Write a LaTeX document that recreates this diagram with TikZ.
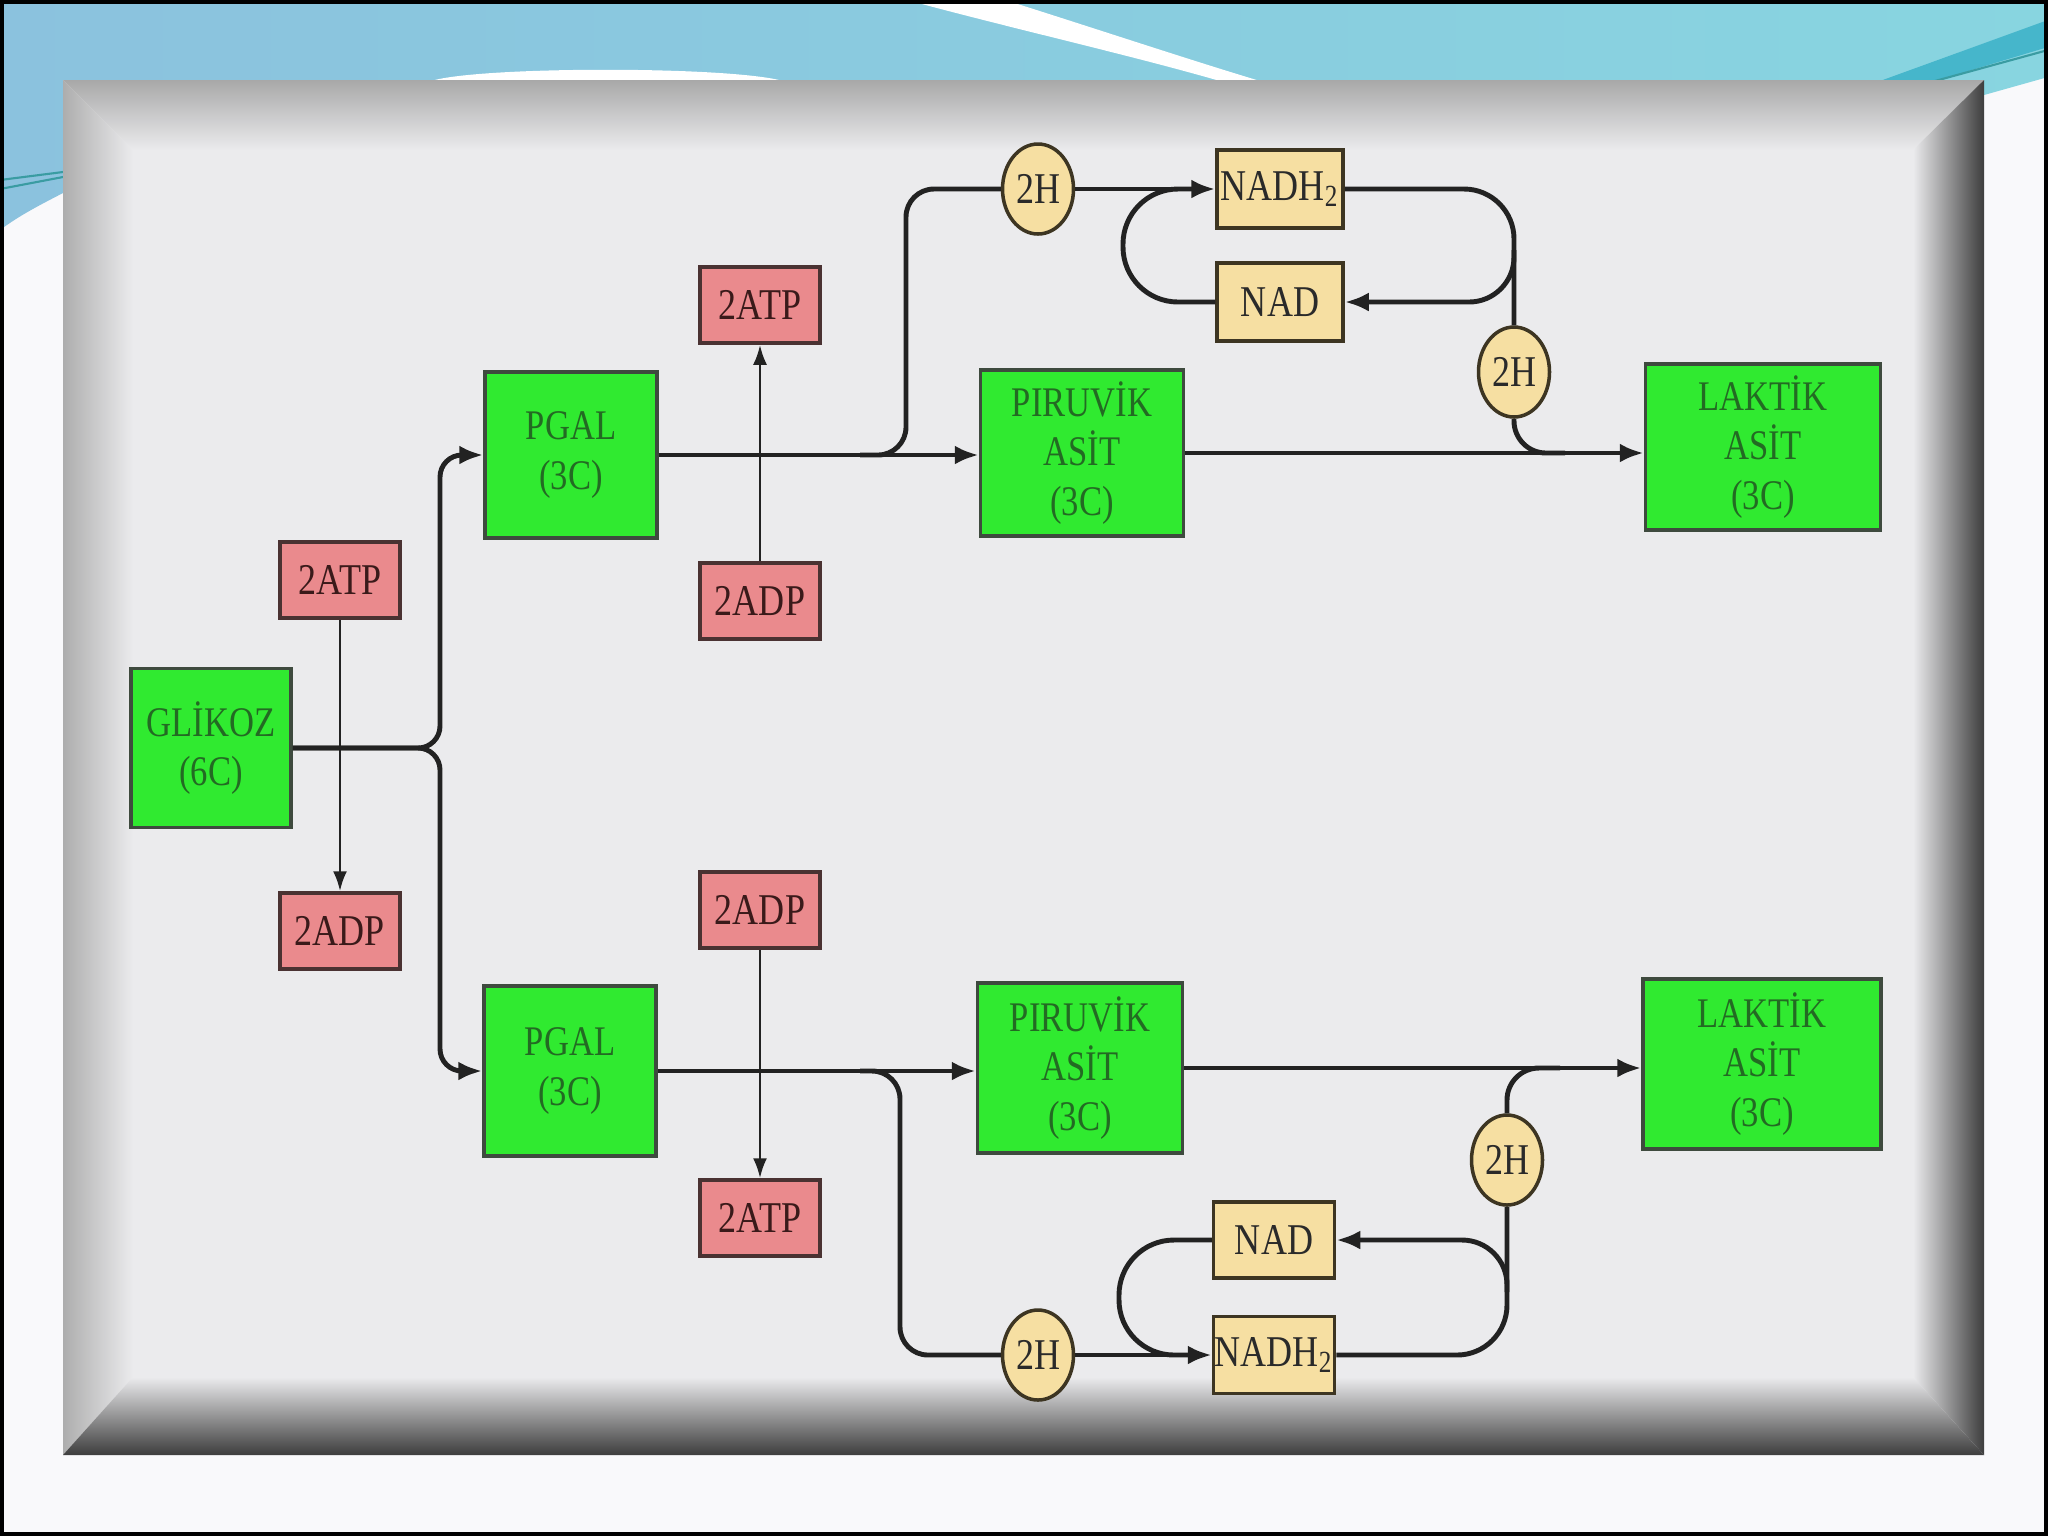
\documentclass[tikz,border=0pt]{standalone}
\usepackage{fontspec}
\setmainfont{Liberation Serif}[FakeStretch=0.82]
\usetikzlibrary{arrows.meta,positioning,shapes.geometric}

\definecolor{zemin}{HTML}{F9F9FB}
\definecolor{gokmavi}{HTML}{8BC2DE}
\definecolor{turkuaz}{HTML}{88D5E0}
\definecolor{koyuserit}{HTML}{46B6CB}
\definecolor{ipek}{HTML}{3A9CA2}
\definecolor{panelyuz}{HTML}{EBEBED}
\definecolor{madyesil}{HTML}{30EA30}
\definecolor{madcizgi}{HTML}{3E4A3E}
\definecolor{madyazi}{HTML}{236A23}
\definecolor{enpembe}{HTML}{EA8A8D}
\definecolor{encizgi}{HTML}{4A3232}
\definecolor{enyazi}{HTML}{3A1A1A}
\definecolor{tasari}{HTML}{F6DFA2}
\definecolor{tacizgi}{HTML}{3D3522}
\definecolor{tayazi}{HTML}{2A2A2A}
\definecolor{cizgirenk}{HTML}{222222}

\begin{document}
\begin{tikzpicture}[
  x=0.1mm, y=-0.1mm,
  madde/.style={draw=madcizgi, line width=1pt, fill=madyesil, text=madyazi, align=center, minimum width=17.2mm, minimum height=16.6mm, inner sep=0pt, font=\fontsize{12}{14}\selectfont},
  enerji/.style={draw=encizgi, line width=1pt, fill=enpembe, text=enyazi, minimum width=12mm, minimum height=7.6mm, inner sep=0pt, font=\fontsize{12.5}{14}\selectfont},
  tasiyici/.style={draw=tacizgi, line width=1pt, fill=tasari, text=tayazi, minimum width=12.6mm, minimum height=7.8mm, inner sep=0pt, font=\fontsize{12.5}{14}\selectfont},
  hidrojen/.style={ellipse, draw=tacizgi, line width=1pt, fill=tasari, text=tayazi, minimum width=7.1mm, minimum height=9mm, inner sep=0pt, font=\fontsize{12.5}{14}\selectfont},
  yol/.style={line width=1.4pt, draw=cizgirenk},
  ok/.style={yol, -{Latex[length=2.4mm, width=1.9mm]}},
  ince/.style={line width=0.8pt, draw=cizgirenk, -{Latex[length=2mm, width=1.4mm]}}
]
\useasboundingbox (0,0) rectangle (2048,1536);

% zemin ve ust serit
\fill[zemin] (0,0) rectangle (2048,1536);
\shade[left color=gokmavi, right color=turkuaz] (0,0) -- (2048,0) -- (2048,77) -- (1984,95) -- (1984,81) -- (63,81) -- (63,193) .. controls (40,205) and (20,215) .. (0,230) -- cycle;
\fill[white] (907,0) -- (1005,0) .. controls (1100,30) and (1190,60) .. (1260,81) -- (1220,81) .. controls (1130,55) and (1010,28) .. cycle;
\fill[white] (431,81) .. controls (480,66) and (730,66) .. (783,81) -- cycle;
\fill[koyuserit] (1880,81) -- (2048,20) -- (2048,47) -- (1935,81) -- cycle;
\draw[ipek, line width=0.6pt] (0,180) -- (63,172);
\draw[ipek, line width=0.6pt] (0,189) -- (63,177);
\draw[ipek, line width=0.6pt] (1935,81) -- (2048,50);

% cerceve
\fill[panelyuz] (63,80) rectangle (1984,1455);
\shade[top color=black!34, bottom color=panelyuz] (63,80) -- (1984,80) -- (1913,150) -- (133,150) -- cycle;
\shade[left color=black!32, right color=panelyuz] (63,80) -- (133,150) -- (133,1377) -- (63,1455) -- cycle;
\shade[left color=panelyuz, right color=black!76] (1984,80) -- (1913,150) -- (1913,1377) -- (1984,1455) -- cycle;
\shade[top color=panelyuz, bottom color=black!76] (63,1455) -- (133,1377) -- (1913,1377) -- (1984,1455) -- cycle;
\draw[black, line width=1pt] (2,2) rectangle (2046,1534);

\node[madde, minimum width=16mm, minimum height=15.9mm] (glikoz) at (211,748) {GLİKOZ\\(6C)};
\node[enerji] (atpSol) at (340,580) {2ATP};
\node[enerji] (adpSol) at (340,931) {2ADP};
\node[madde] (pgalUst) at (571,455) {PGAL\\(3C)};
\node[madde, minimum height=17mm] (pgalAlt) at (570,1071) {PGAL\\(3C)};
\node[enerji] (atpUst) at (760,305) {2ATP};
\node[enerji] (adpUst) at (760,601) {2ADP};
\node[enerji] (adpAlt) at (760,910) {2ADP};
\node[enerji] (atpAlt) at (760,1218) {2ATP};
\node[madde, minimum width=20.3mm] (piruvikUst) at (1082,453) {PIRUVİK\\ASİT\\(3C)};
\node[madde, minimum width=20.5mm, minimum height=17mm] (piruvikAlt) at (1080,1068) {PIRUVİK\\ASİT\\(3C)};
\node[madde, minimum width=23.5mm] (laktikUst) at (1763,447) {LAKTİK\\ASİT\\(3C)};
\node[madde, minimum width=23.8mm, minimum height=17mm] (laktikAlt) at (1762,1064) {LAKTİK\\ASİT\\(3C)};
\node[hidrojen] (hUst) at (1038,189) {2H};
\node[tasiyici] (nadhUst) at (1280,189) {NADH\textsubscript{2}};
\node[tasiyici] (nadUst) at (1280,302) {NAD};
\node[hidrojen] (hSagUst) at (1514,372) {2H};
\node[hidrojen] (hSagAlt) at (1507,1160) {2H};
\node[tasiyici, minimum width=12.1mm, minimum height=7.6mm] (nadAlt) at (1274,1240) {NAD};
\node[tasiyici, minimum width=12.1mm, minimum height=7.7mm] (nadhAlt) at (1274,1355) {NADH\textsubscript{2}};
\node[hidrojen] (hAlt) at (1038,1355) {2H};

% glikoz -> PGAL
\draw[ok, rounded corners=2.2mm] (glikoz.east) -- (440,748) |- (pgalUst.west);
\draw[ok, rounded corners=2.2mm] (glikoz.east) -- (440,748) |- (pgalAlt.west);
\draw[ince] (atpSol) -- (adpSol);
\draw[ince] (adpUst) -- (atpUst);
\draw[ince] (adpAlt) -- (atpAlt);

% ana yollar
\draw[ok] (pgalUst.east) -- (pgalUst.east -| piruvikUst.west);
\draw[ok] (piruvikUst.east) -- (piruvikUst.east -| laktikUst.west);
\draw[ok] (pgalAlt.east) -- (pgalAlt.east -| piruvikAlt.west);
\draw[ok] (piruvikAlt.east) -- (piruvikAlt.east -| laktikAlt.west);

% ust dongu
\coordinate (ayrimUst) at (860,455);
\coordinate (kolUst) at (1514,250);
\coordinate (birlesUst) at (1565,453);
\draw[yol, rounded corners=2.8mm] (ayrimUst) -- (906,455) -- (906,189) -- (hUst.west);
\draw[ok] (hUst) -- (nadhUst);
\draw[yol, rounded corners=5.5mm] (nadUst.west) -- (1123,302) -- (1123,189) -- (1200,189);
\draw[yol, rounded corners=5mm] (nadhUst.east) -| (hSagUst.north);
\draw[ok, rounded corners=4.5mm] (kolUst) |- (nadUst.east);
\draw[yol, rounded corners=3.2mm] (hSagUst.south) |- (birlesUst);

% alt dongu
\coordinate (ayrimAlt) at (860,1071);
\coordinate (kolAlt) at (1507,1292);
\coordinate (birlesAlt) at (1560,1068);
\draw[yol, rounded corners=2.8mm] (ayrimAlt) -- (900,1071) -- (900,1355) -- (hAlt.west);
\draw[ok] (hAlt) -- (nadhAlt);
\draw[yol, rounded corners=5.5mm] (nadAlt.west) -- (1119,1240) -- (1119,1355) -- (1196,1355);
\draw[yol, rounded corners=5mm] (nadhAlt.east) -| (hSagAlt.south);
\draw[ok, rounded corners=4.5mm] (kolAlt) |- (nadAlt.east);
\draw[yol, rounded corners=3.2mm] (hSagAlt.north) |- (birlesAlt);
\end{tikzpicture}
\end{document}
